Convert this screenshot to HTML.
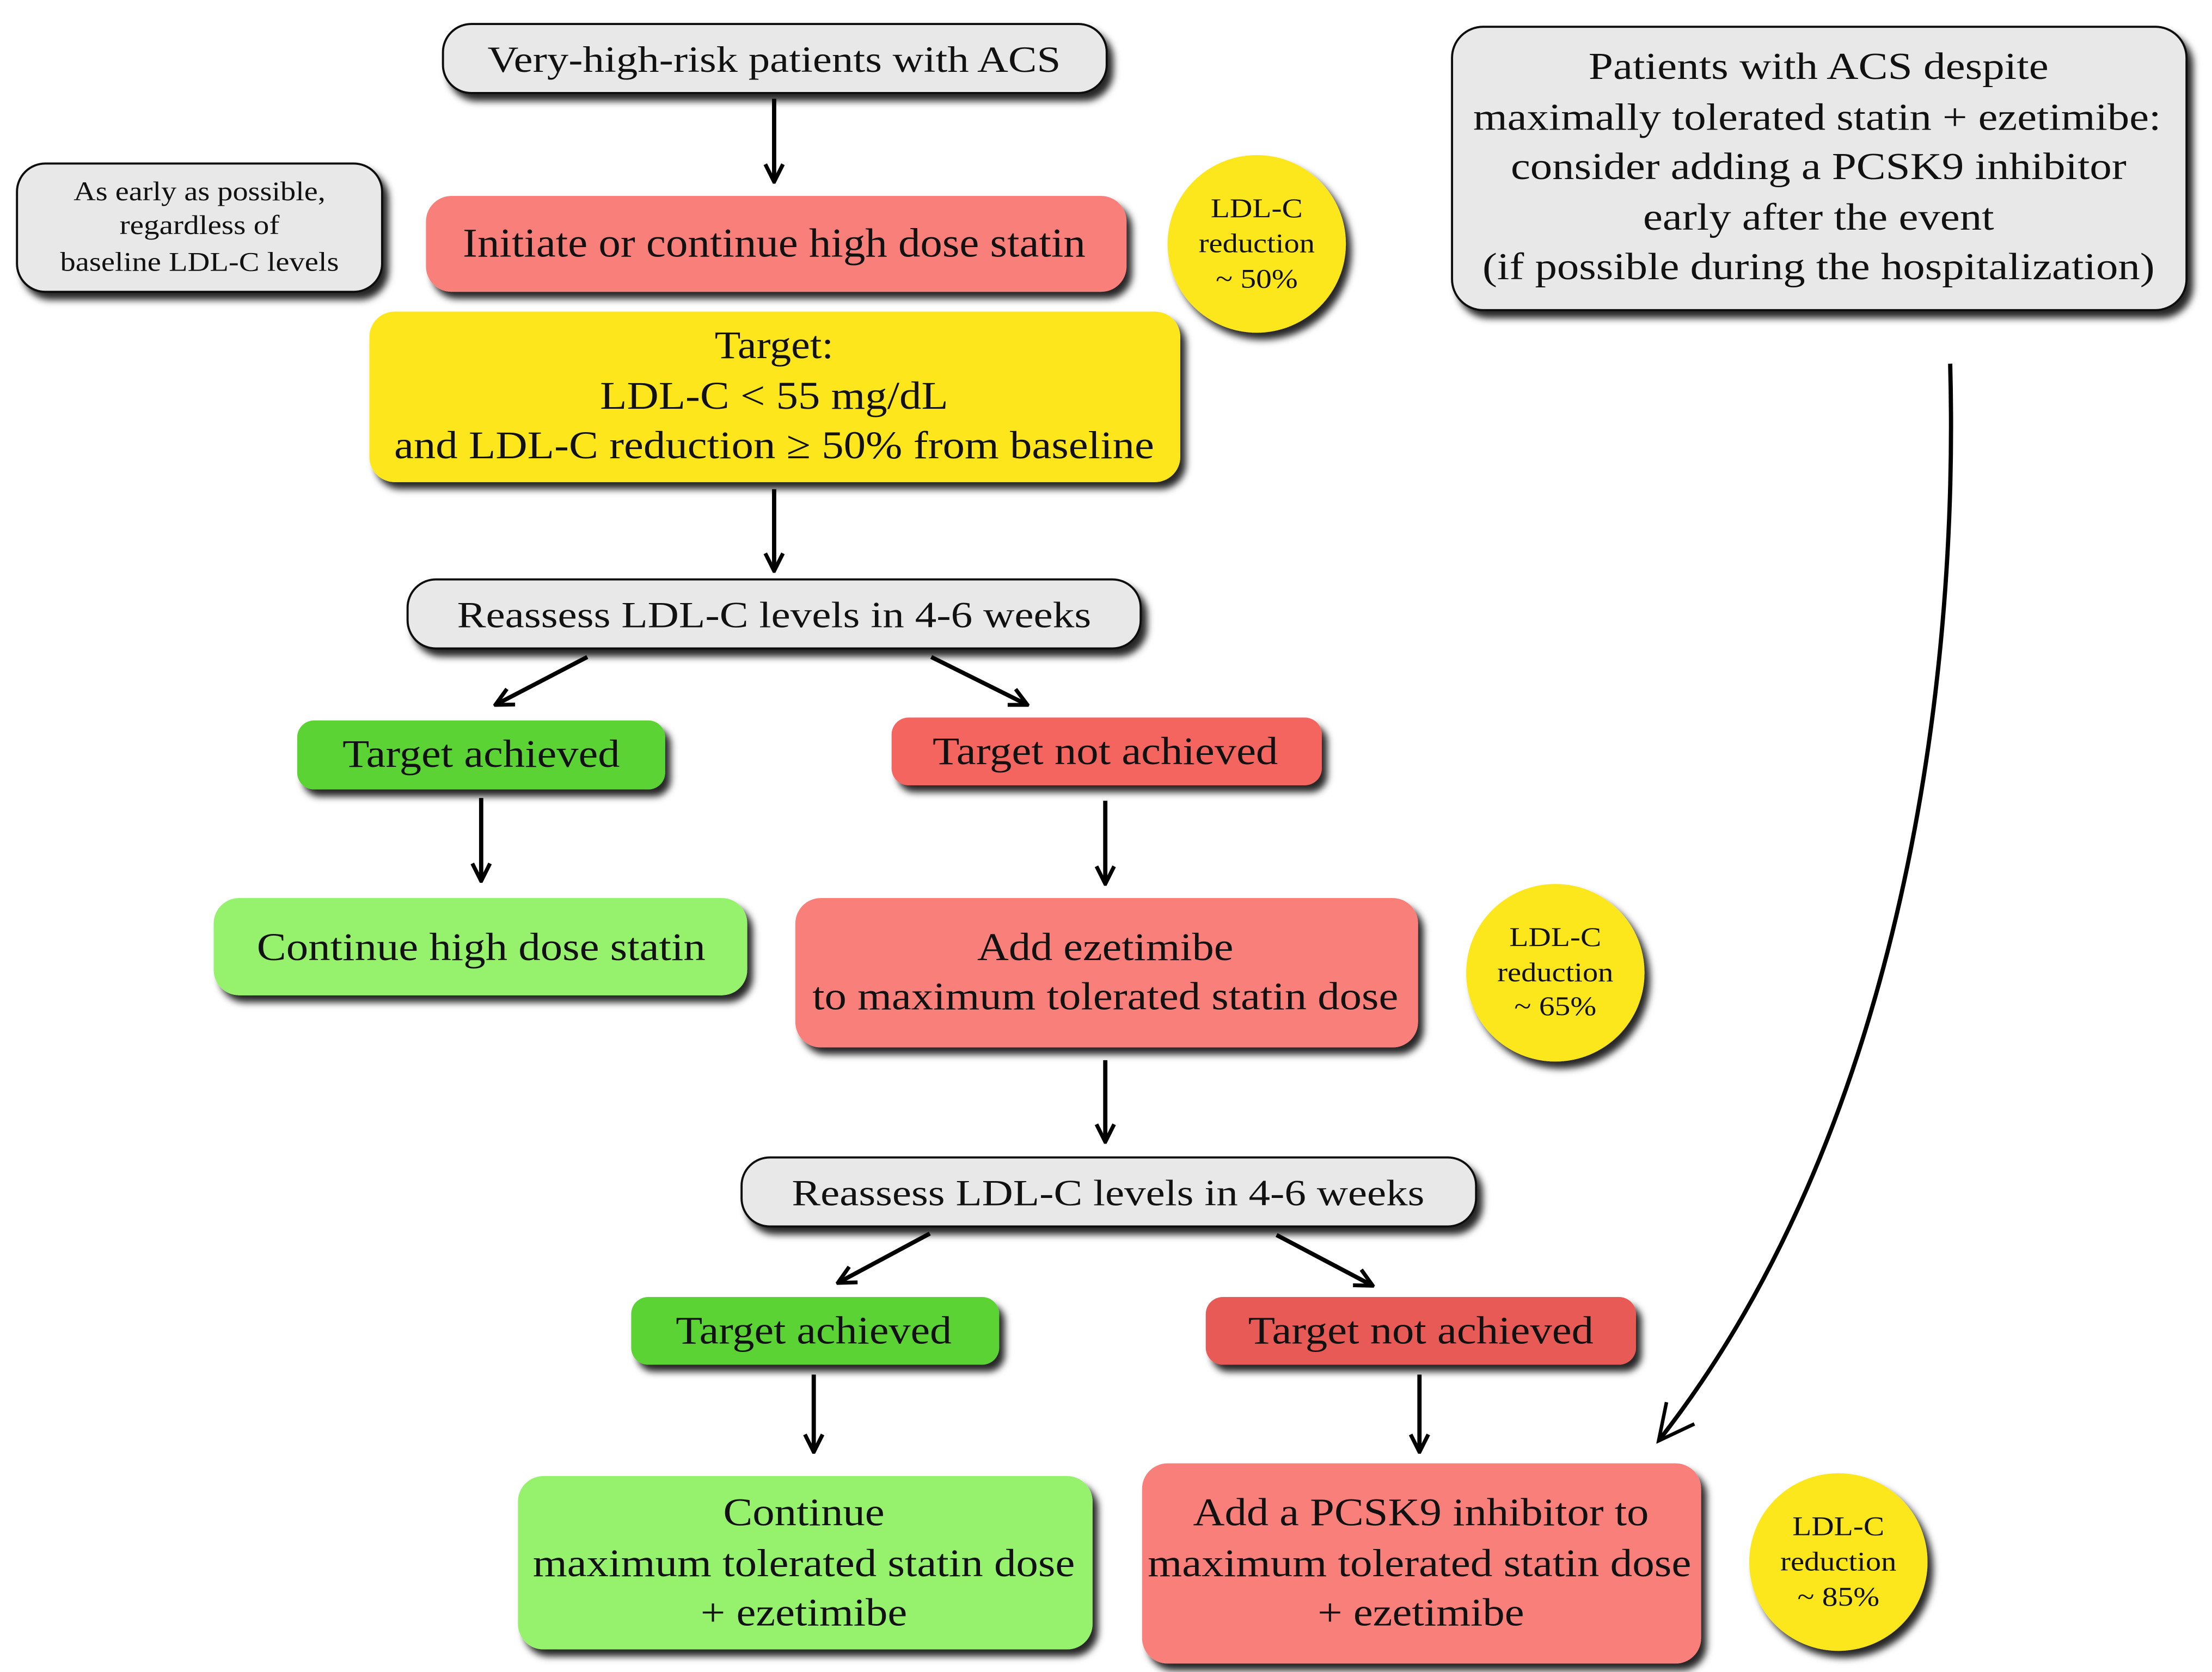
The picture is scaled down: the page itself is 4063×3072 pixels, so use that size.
<!DOCTYPE html>
<html><head><meta charset="utf-8"><style>
html,body{margin:0;padding:0;background:#fff;}
svg{display:block;}
</style></head><body>
<svg width="4063" height="3072" viewBox="0 0 1563 1186" preserveAspectRatio="none" xmlns="http://www.w3.org/2000/svg">
<defs>
<filter id="sh" x="-10%" y="-10%" width="130%" height="140%">
<feDropShadow dx="4" dy="5" stdDeviation="2.5" flood-color="#000" flood-opacity="0.85"/>
</filter>
<marker id="ah" viewBox="0 0 12 12" refX="11" refY="6" markerWidth="15" markerHeight="15" orient="auto" markerUnits="userSpaceOnUse">
<path d="M1,1 L11,6 L1,11" fill="none" stroke="#000" stroke-width="2.2"/>
</marker>
<marker id="ah2" viewBox="0 0 12 12" refX="11" refY="6" markerWidth="30" markerHeight="30" orient="auto" markerUnits="userSpaceOnUse">
<path d="M1,1 L11,6 L1,11" fill="none" stroke="#000" stroke-width="1"/>
</marker>
</defs>
<g filter="url(#sh)">
<rect x="313" y="17" width="469" height="49" rx="20" fill="#e8e8e8" stroke="#111" stroke-width="1.5"/>
<rect x="12" y="116" width="258" height="91" rx="20" fill="#e8e8e8" stroke="#111" stroke-width="1.5"/>
<rect x="301" y="139" width="495" height="68" rx="18" fill="#f97f7a"/>
<circle cx="888" cy="173" r="63" fill="#fce61f"/>
<rect x="261" y="221" width="573" height="121" rx="18" fill="#fde71f"/>
<rect x="288" y="411" width="518" height="49" rx="20" fill="#e8e8e8" stroke="#111" stroke-width="1.5"/>
<rect x="210" y="511" width="260" height="49" rx="12" fill="#5cd334"/>
<rect x="630" y="509" width="304" height="48" rx="12" fill="#f46560"/>
<rect x="151" y="637" width="377" height="69" rx="18" fill="#96f26c"/>
<rect x="562" y="637" width="440" height="106" rx="18" fill="#f97f7a"/>
<circle cx="1099" cy="690" r="63" fill="#fce61f"/>
<rect x="524" y="821" width="519" height="49" rx="20" fill="#e8e8e8" stroke="#111" stroke-width="1.5"/>
<rect x="446" y="920" width="260" height="48" rx="12" fill="#5cd334"/>
<rect x="852" y="920" width="304" height="48" rx="12" fill="#e85a55"/>
<rect x="366" y="1047" width="406" height="123" rx="18" fill="#96f26c"/>
<rect x="807" y="1038" width="395" height="142" rx="18" fill="#f97f7a"/>
<circle cx="1299" cy="1108" r="63" fill="#fce61f"/>
<rect x="1026" y="19" width="519" height="201" rx="22" fill="#e8e8e8" stroke="#111" stroke-width="1.5"/>
</g>
<g stroke="#000" stroke-width="3" fill="none" marker-end="url(#ah)">
<line x1="547" y1="70" x2="547" y2="129"/>
<line x1="547" y1="347" x2="547" y2="405"/>
<line x1="415" y1="466" x2="350" y2="500"/>
<line x1="658" y1="466" x2="726" y2="500"/>
<line x1="340" y1="566" x2="340" y2="625"/>
<line x1="781" y1="568" x2="781" y2="627"/>
<line x1="781" y1="752" x2="781" y2="810"/>
<line x1="657" y1="875" x2="592" y2="910"/>
<line x1="902" y1="876" x2="970" y2="912"/>
<line x1="575" y1="975" x2="575" y2="1030"/>
<line x1="1003" y1="975" x2="1003" y2="1030"/>
</g>
<path d="M1378 258 C1385 520, 1330 820, 1172 1022" stroke="#000" stroke-width="3" fill="none" marker-end="url(#ah2)"/>
<g font-family="Liberation Serif, serif" fill="#111" text-anchor="middle" lengthAdjust="spacingAndGlyphs">
<text x="547" y="51" font-size="26" textLength="405" lengthAdjust="spacingAndGlyphs">Very-high-risk patients with ACS</text>
<text x="141" y="142" font-size="19" textLength="178" lengthAdjust="spacingAndGlyphs">As early as possible,</text>
<text x="141" y="166" font-size="19" textLength="113" lengthAdjust="spacingAndGlyphs">regardless of</text>
<text x="141" y="192" font-size="19" textLength="197" lengthAdjust="spacingAndGlyphs">baseline LDL-C levels</text>
<text x="547" y="182" font-size="29" textLength="440" lengthAdjust="spacingAndGlyphs">Initiate or continue high dose statin</text>
<text x="888" y="154" font-size="19" textLength="65" lengthAdjust="spacingAndGlyphs">LDL-C</text>
<text x="888" y="179" font-size="19" textLength="82" lengthAdjust="spacingAndGlyphs">reduction</text>
<text x="888" y="204" font-size="19" textLength="58" lengthAdjust="spacingAndGlyphs">~ 50%</text>
<text x="547" y="254" font-size="28" textLength="84" lengthAdjust="spacingAndGlyphs">Target:</text>
<text x="547" y="290" font-size="28" textLength="246" lengthAdjust="spacingAndGlyphs">LDL-C &lt; 55 mg/dL</text>
<text x="547" y="325" font-size="28" textLength="537" lengthAdjust="spacingAndGlyphs">and LDL-C reduction ≥ 50% from baseline</text>
<text x="547" y="445" font-size="26" textLength="448" lengthAdjust="spacingAndGlyphs">Reassess LDL-C levels in 4-6 weeks</text>
<text x="340" y="544" font-size="28" textLength="196" lengthAdjust="spacingAndGlyphs">Target achieved</text>
<text x="781" y="542" font-size="28" textLength="244" lengthAdjust="spacingAndGlyphs">Target not achieved</text>
<text x="340" y="681" font-size="28" textLength="317" lengthAdjust="spacingAndGlyphs">Continue high dose statin</text>
<text x="781" y="681" font-size="28" textLength="181" lengthAdjust="spacingAndGlyphs">Add ezetimibe</text>
<text x="781" y="716" font-size="28" textLength="414" lengthAdjust="spacingAndGlyphs">to maximum tolerated statin dose</text>
<text x="1099" y="671" font-size="19" textLength="65" lengthAdjust="spacingAndGlyphs">LDL-C</text>
<text x="1099" y="696" font-size="19" textLength="82" lengthAdjust="spacingAndGlyphs">reduction</text>
<text x="1099" y="720" font-size="19" textLength="58" lengthAdjust="spacingAndGlyphs">~ 65%</text>
<text x="783" y="855" font-size="26" textLength="447" lengthAdjust="spacingAndGlyphs">Reassess LDL-C levels in 4-6 weeks</text>
<text x="575" y="953" font-size="28" textLength="195" lengthAdjust="spacingAndGlyphs">Target achieved</text>
<text x="1004" y="953" font-size="28" textLength="244" lengthAdjust="spacingAndGlyphs">Target not achieved</text>
<text x="568" y="1082" font-size="28" textLength="114" lengthAdjust="spacingAndGlyphs">Continue</text>
<text x="568" y="1118" font-size="28" textLength="383" lengthAdjust="spacingAndGlyphs">maximum tolerated statin dose</text>
<text x="568" y="1153" font-size="28" textLength="146" lengthAdjust="spacingAndGlyphs">+ ezetimibe</text>
<text x="1004" y="1082" font-size="28" textLength="322" lengthAdjust="spacingAndGlyphs">Add a PCSK9 inhibitor to</text>
<text x="1003" y="1118" font-size="28" textLength="384" lengthAdjust="spacingAndGlyphs">maximum tolerated statin dose</text>
<text x="1004" y="1153" font-size="28" textLength="146" lengthAdjust="spacingAndGlyphs">+ ezetimibe</text>
<text x="1299" y="1089" font-size="19" textLength="65" lengthAdjust="spacingAndGlyphs">LDL-C</text>
<text x="1299" y="1114" font-size="19" textLength="82" lengthAdjust="spacingAndGlyphs">reduction</text>
<text x="1299" y="1139" font-size="19" textLength="58" lengthAdjust="spacingAndGlyphs">~ 85%</text>
<text x="1285" y="56" font-size="27" textLength="325" lengthAdjust="spacingAndGlyphs">Patients with ACS despite</text>
<text x="1284" y="92" font-size="27" textLength="486" lengthAdjust="spacingAndGlyphs">maximally tolerated statin + ezetimibe:</text>
<text x="1285" y="127" font-size="27" textLength="435" lengthAdjust="spacingAndGlyphs">consider adding a PCSK9 inhibitor</text>
<text x="1285" y="163" font-size="27" textLength="248" lengthAdjust="spacingAndGlyphs">early after the event</text>
<text x="1285" y="198" font-size="27" textLength="475" lengthAdjust="spacingAndGlyphs">(if possible during the hospitalization)</text>
</g>
</svg>
</body></html>
